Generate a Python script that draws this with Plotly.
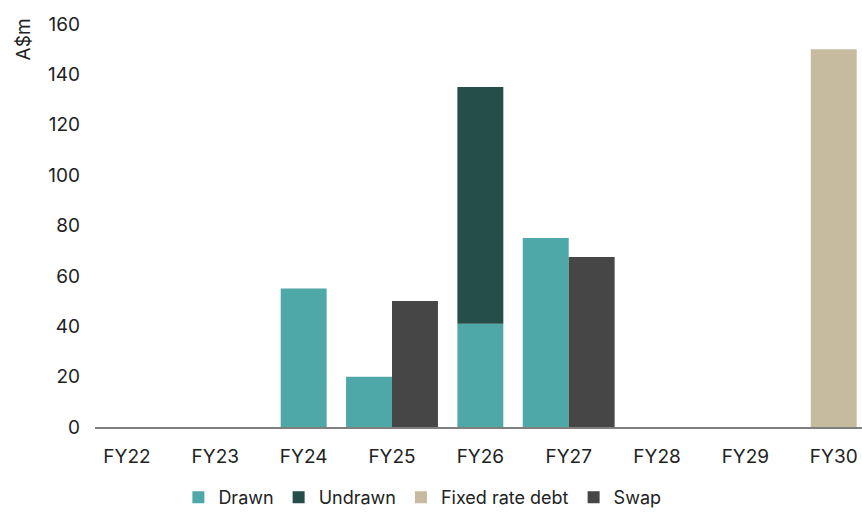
import plotly.graph_objects as go

# Debt maturity profile, A$m
years = ["FY22", "FY23", "FY24", "FY25", "FY26", "FY27", "FY28", "FY29", "FY30"]
drawn = [0, 0, 55, 20, 41, 75, 0, 0, 0]
undrawn = [0, 0, 0, 0, 94, 0, 0, 0, 0]
fixed_rate_debt = [0, 0, 0, 0, 0, 0, 0, 0, 150]
swap = [0, 0, 0, 50, 0, 67.5, 0, 0, 0]

colors = {
    "Drawn": "#4FA8A8",
    "Undrawn": "#244E47",
    "Fixed rate debt": "#C6BB9E",
    "Swap": "#464646",
}

BAR_W = 0.52
FONT = "Inter, Roboto, Arial, sans-serif"
TEXT = "#222222"

# Facility bars (drawn/undrawn) sit left of hedge bars (fixed/swap) when a year
# has both; a year with only one kind gets a single centred bar.
left_off, right_off = [], []
for i in range(len(years)):
    has_left = drawn[i] + undrawn[i] > 0
    has_right = fixed_rate_debt[i] + swap[i] > 0
    if has_left and has_right:
        left_off.append(-BAR_W)
        right_off.append(0.0)
    else:
        left_off.append(-BAR_W / 2)
        right_off.append(-BAR_W / 2)

fig = go.Figure()
fig.add_trace(go.Bar(x=years, y=drawn, name="Drawn", width=BAR_W, offset=left_off,
                     marker=dict(color=colors["Drawn"], line_width=0)))
fig.add_trace(go.Bar(x=years, y=undrawn, base=drawn, name="Undrawn", width=BAR_W,
                     offset=left_off,
                     marker=dict(color=colors["Undrawn"], line_width=0)))
fig.add_trace(go.Bar(x=years, y=fixed_rate_debt, name="Fixed rate debt", width=BAR_W,
                     offset=right_off,
                     marker=dict(color=colors["Fixed rate debt"], line_width=0)))
fig.add_trace(go.Bar(x=years, y=swap, name="Swap", width=BAR_W, offset=right_off,
                     marker=dict(color=colors["Swap"], line_width=0)))

fig.update_layout(
    width=862, height=512,
    margin=dict(l=95, r=0, t=24, b=85, autoexpand=False),
    barmode="overlay",
    plot_bgcolor="white", paper_bgcolor="white",
    font=dict(family=FONT, size=19, color=TEXT),
    showlegend=True,
    legend=dict(orientation="h", x=0.49, xanchor="center", xref="container",
                y=0.028, yanchor="middle", yref="container",
                font=dict(size=18, color=TEXT),
                itemwidth=30, tracegroupgap=0, traceorder="normal"),
    xaxis=dict(type="category", range=[-0.362, 8.32], showgrid=False,
               showline=True, linecolor="#7f7f7f", linewidth=1.5,
               ticks="", ticklabelstandoff=11, tickfont=dict(size=19)),
    yaxis=dict(range=[0, 160], dtick=20, showgrid=False, zeroline=False,
               showline=False, ticks="", ticklabelstandoff=14,
               tickfont=dict(size=19)),
    annotations=[dict(text="A$m", textangle=-90, xref="paper", yref="paper",
                      x=-0.093, y=1.018, xanchor="center", yanchor="top",
                      showarrow=False, font=dict(size=19, color=TEXT))],
)

fig.write_html("out.html")
